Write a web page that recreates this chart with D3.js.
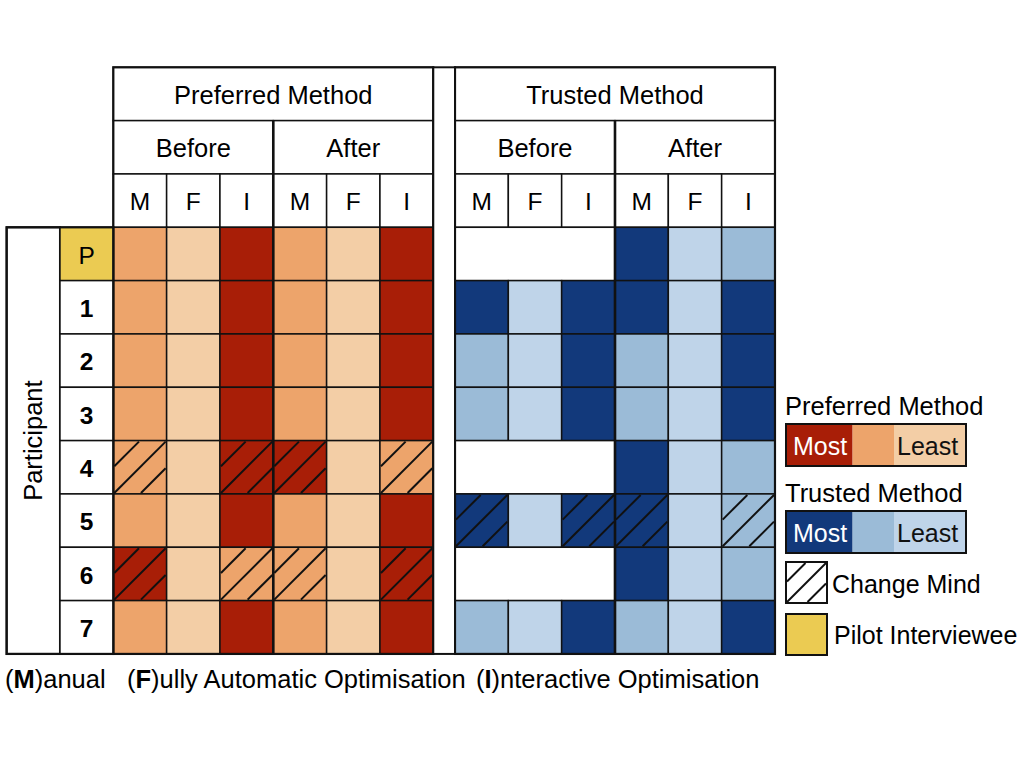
<!DOCTYPE html>
<html>
<head>
<meta charset="utf-8">
<script src="https://cdn.jsdelivr.net/npm/d3@7"></script>
<style>
  body { margin: 0; background: #fff; }
  svg { display: block; font-family: "Liberation Sans", Arial, sans-serif; }
</style>
</head>
<body>
<svg id="chart" width="1024" height="768"></svg>
<script>
// participants (P = pilot interviewee)
var participants = ["P", "1", "2", "3", "4", "5", "6", "7"];
var pilots = ["P"];
var groups = ["Preferred Method", "Trusted Method"];
var phases = ["Before", "After"];
var methods = ["M", "F", "I"];
var rankLabels = ["Most", "", "Least"];

// rank per participant: Before M,F,I then After M,F,I  (1 = most, 3 = least, null = not asked)
var preferredRank = [
  [2, 3, 1, 2, 3, 1],
  [2, 3, 1, 2, 3, 1],
  [2, 3, 1, 2, 3, 1],
  [2, 3, 1, 2, 3, 1],
  [2, 3, 1, 1, 3, 2],
  [2, 3, 1, 2, 3, 1],
  [1, 3, 2, 2, 3, 1],
  [2, 3, 1, 2, 3, 1]
];
var preferredChanged = [
  [0, 0, 0, 0, 0, 0],
  [0, 0, 0, 0, 0, 0],
  [0, 0, 0, 0, 0, 0],
  [0, 0, 0, 0, 0, 0],
  [1, 0, 1, 1, 0, 1],
  [0, 0, 0, 0, 0, 0],
  [1, 0, 1, 1, 0, 1],
  [0, 0, 0, 0, 0, 0]
];
var trustedRank = [
  [null, null, null, 1, 3, 2],
  [1, 3, 1, 1, 3, 1],
  [2, 3, 1, 2, 3, 1],
  [2, 3, 1, 2, 3, 1],
  [null, null, null, 1, 3, 2],
  [1, 3, 1, 1, 3, 2],
  [null, null, null, 1, 3, 2],
  [2, 3, 1, 2, 3, 1]
];
var trustedChanged = [
  [0, 0, 0, 0, 0, 0],
  [0, 0, 0, 0, 0, 0],
  [0, 0, 0, 0, 0, 0],
  [0, 0, 0, 0, 0, 0],
  [0, 0, 0, 0, 0, 0],
  [1, 0, 1, 1, 0, 1],
  [0, 0, 0, 0, 0, 0],
  [0, 0, 0, 0, 0, 0]
];

var svg = d3.select("#chart");
var s = 53.33;          // cell size
var headTop = 67.3;     // top of header
var gridTop = headTop + 3 * s;
var gridBottom = gridTop + participants.length * s;
var ink = "#111";

var blockX = d3.scaleOrdinal().domain(groups).range([113.3, 455]);
var colX = d3.scaleBand().domain(d3.range(6)).range([0, 6 * s]);
var phaseX = d3.scaleBand().domain(phases).range([0, 6 * s]);
var rowY = d3.scaleBand().domain(participants).range([gridTop, gridBottom]);

var prefColor = d3.scaleOrdinal().domain([1, 2, 3]).range(["#a81e07", "#eda46b", "#f3cea6"]);
var trustColor = d3.scaleOrdinal().domain([1, 2, 3]).range(["#12397b", "#9bbbd7", "#bfd4e9"]);
var pilotColor = "#ebcb52";

// three diagonal strokes inside a square
function hatch(g, x, y, w, h) {
  var segs = [
    [x, y + h / 2, x + w / 2, y],
    [x, y + h, x + w, y],
    [x + w / 2, y + h, x + w, y + h / 2]
  ];
  g.selectAll(null).data(segs).enter().append("line")
    .attr("x1", function (d) { return d[0] + 1; })
    .attr("y1", function (d) { return d[1] - 1; })
    .attr("x2", function (d) { return d[2] - 1; })
    .attr("y2", function (d) { return d[3] + 1; })
    .attr("stroke", ink).attr("stroke-width", 2);
}

function drawBlock(group, ranks, changed, color) {
  var g = svg.append("g").attr("transform", "translate(" + blockX(group) + ",0)");

  // header rows
  g.append("rect").attr("x", 0).attr("y", headTop).attr("width", 6 * s).attr("height", s)
    .attr("fill", "#fff").attr("stroke", ink).attr("stroke-width", 1.5);
  g.append("text").attr("x", 3 * s).attr("y", headTop + s / 2 + 1).attr("dy", "0.36em")
    .attr("text-anchor", "middle").attr("font-size", 25.5).text(group);

  g.selectAll(".ph").data(phases).enter().append("rect")
    .attr("x", function (d) { return phaseX(d); }).attr("y", headTop + s)
    .attr("width", phaseX.bandwidth()).attr("height", s)
    .attr("fill", "#fff").attr("stroke", ink).attr("stroke-width", 1.5);
  g.selectAll(".pht").data(phases).enter().append("text")
    .attr("x", function (d) { return phaseX(d) + phaseX.bandwidth() / 2; })
    .attr("y", headTop + 1.5 * s + 1).attr("dy", "0.36em")
    .attr("text-anchor", "middle").attr("font-size", 25.5).text(function (d) { return d; });

  var cols = d3.range(6);
  g.selectAll(".mh").data(cols).enter().append("rect")
    .attr("x", function (d) { return colX(d); }).attr("y", headTop + 2 * s)
    .attr("width", colX.bandwidth()).attr("height", s)
    .attr("fill", "#fff").attr("stroke", ink).attr("stroke-width", 1.5);
  g.selectAll(".mht").data(cols).enter().append("text")
    .attr("x", function (d) { return colX(d) + colX.bandwidth() / 2; })
    .attr("y", headTop + 2.5 * s + 1).attr("dy", "0.36em")
    .attr("text-anchor", "middle").attr("font-size", 24.5)
    .text(function (d) { return methods[d % 3]; });

  // data cells
  participants.forEach(function (p, i) {
    var y = rowY(p);
    phases.forEach(function (ph, k) {
      var vals = ranks[i].slice(k * 3, k * 3 + 3);
      if (vals.every(function (v) { return v === null; })) {
        g.append("rect").attr("x", phaseX(ph)).attr("y", y)
          .attr("width", phaseX.bandwidth()).attr("height", rowY.bandwidth())
          .attr("fill", "#fff").attr("stroke", ink).attr("stroke-width", 1.5);
        return;
      }
      vals.forEach(function (v, m) {
        var c = k * 3 + m;
        g.append("rect").attr("x", colX(c)).attr("y", y)
          .attr("width", colX.bandwidth()).attr("height", rowY.bandwidth())
          .attr("fill", color(v)).attr("stroke", ink).attr("stroke-width", 1.5);
        if (changed[i][c]) hatch(g, colX(c), y, colX.bandwidth(), rowY.bandwidth());
      });
    });
  });

  // heavier lines: before/after divider and frame
  g.append("line").attr("x1", phaseX("After")).attr("x2", phaseX("After"))
    .attr("y1", headTop + s).attr("y2", gridBottom).attr("stroke", ink).attr("stroke-width", 2.6);
  g.append("rect").attr("x", 0).attr("y", headTop).attr("width", 6 * s).attr("height", gridBottom - headTop)
    .attr("fill", "none").attr("stroke", ink).attr("stroke-width", 2.2);
}

drawBlock("Preferred Method", preferredRank, preferredChanged, prefColor);
drawBlock("Trusted Method", trustedRank, trustedChanged, trustColor);

// gap column between the two blocks
var gapX0 = blockX("Preferred Method") + 6 * s;
svg.append("rect").attr("x", gapX0).attr("y", headTop)
  .attr("width", blockX("Trusted Method") - gapX0).attr("height", gridBottom - headTop)
  .attr("fill", "#fff").attr("stroke", ink).attr("stroke-width", 2);

// left: participant column and row labels
var labX = blockX("Preferred Method") - s;
svg.append("rect").attr("x", labX - s).attr("y", gridTop).attr("width", s).attr("height", gridBottom - gridTop)
  .attr("fill", "#fff").attr("stroke", ink).attr("stroke-width", 2);
svg.append("text")
  .attr("transform", "translate(" + (labX - s / 2) + "," + ((gridTop + gridBottom) / 2) + ") rotate(-90)")
  .attr("dy", "0.36em").attr("text-anchor", "middle").attr("font-size", 25.5).text("Participant");

svg.selectAll(".lab").data(participants).enter().append("rect")
  .attr("x", labX).attr("y", function (d) { return rowY(d); })
  .attr("width", s).attr("height", rowY.bandwidth())
  .attr("fill", function (d) { return pilots.indexOf(d) >= 0 ? pilotColor : "#fff"; })
  .attr("stroke", ink).attr("stroke-width", 1.5);
svg.selectAll(".labt").data(participants).enter().append("text")
  .attr("x", labX + s / 2).attr("y", function (d) { return rowY(d) + rowY.bandwidth() / 2 + 1; })
  .attr("dy", "0.36em").attr("text-anchor", "middle").attr("font-size", 24.5)
  .attr("font-weight", function (d) { return pilots.indexOf(d) >= 0 ? "normal" : "bold"; })
  .text(function (d) { return d; });
svg.append("rect").attr("x", labX - s).attr("y", gridTop).attr("width", 2 * s).attr("height", gridBottom - gridTop)
  .attr("fill", "none").attr("stroke", ink).attr("stroke-width", 2.2);

// caption
var caption = [
  { x: 5, key: "M", rest: "anual" },
  { x: 127, key: "F", rest: "ully Automatic Optimisation" },
  { x: 476, key: "I", rest: "nteractive Optimisation" }
];
caption.forEach(function (c) {
  var t = svg.append("text").attr("x", c.x).attr("y", 688).attr("font-size", 25.5);
  t.append("tspan").text("(");
  t.append("tspan").attr("font-weight", "bold").text(c.key);
  t.append("tspan").text(")" + c.rest);
});

// legend
var lg = svg.append("g");
var legX = 786, barW = 180;
var legendBars = [
  { title: "Preferred Method", y: 424, color: prefColor },
  { title: "Trusted Method", y: 511, color: trustColor }
];
var segX = d3.scaleLinear().domain([0, 1]).range([legX, legX + barW]);
var segEdges = [0, 0.37, 0.6, 1];
legendBars.forEach(function (b) {
  lg.append("text").attr("x", legX - 1).attr("y", b.y - 9).attr("font-size", 25.5).text(b.title);
  [1, 2, 3].forEach(function (r, i) {
    lg.append("rect").attr("x", segX(segEdges[i])).attr("y", b.y)
      .attr("width", segX(segEdges[i + 1]) - segX(segEdges[i])).attr("height", 42)
      .attr("fill", b.color(r));
  });
  lg.append("rect").attr("x", legX).attr("y", b.y).attr("width", barW).attr("height", 42)
    .attr("fill", "none").attr("stroke", ink).attr("stroke-width", 2);
  lg.append("text").attr("x", legX + 7).attr("y", b.y + 22).attr("dy", "0.36em")
    .attr("font-size", 25).attr("fill", "#fff").text(rankLabels[0]);
  lg.append("text").attr("x", legX + 111).attr("y", b.y + 22).attr("dy", "0.36em")
    .attr("font-size", 25).attr("fill", ink).text(rankLabels[2]);
});

lg.append("rect").attr("x", 786).attr("y", 562).attr("width", 41).attr("height", 41)
  .attr("fill", "#fff").attr("stroke", ink).attr("stroke-width", 2);
hatch(lg, 786, 562, 41, 41);
lg.append("text").attr("x", 832).attr("y", 584).attr("dy", "0.36em").attr("font-size", 25).text("Change Mind");

lg.append("rect").attr("x", 786).attr("y", 614).attr("width", 41).attr("height", 41)
  .attr("fill", pilotColor).attr("stroke", ink).attr("stroke-width", 2);
lg.append("text").attr("x", 834).attr("y", 635).attr("dy", "0.36em").attr("font-size", 25).text("Pilot Interviewee");
</script>
</body>
</html>
